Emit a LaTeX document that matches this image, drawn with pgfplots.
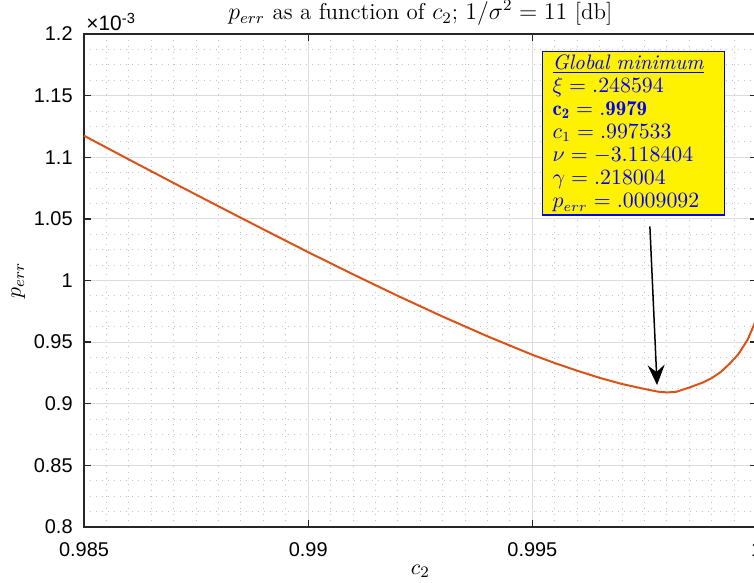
\documentclass[border=0pt]{standalone}
\usepackage{fontspec}
\usepackage{pgfplots}
\pgfplotsset{compat=1.18}
\usetikzlibrary{arrows.meta}
\newfontfamily\arial{Liberation Sans}
\definecolor{mcurve}{RGB}{217,83,25}
\definecolor{maxis}{RGB}{38,38,38}
\definecolor{mgrid}{RGB}{220,220,220}
\definecolor{mminor}{RGB}{195,195,195}
\begin{document}
\begin{tikzpicture}
\useasboundingbox (-42bp,-28bp) rectangle (335bp,263.5bp);
\clip (-42bp,-28bp) rectangle (335bp,263.5bp);
\begin{axis}[
  at={(0,0)}, anchor=south west,
  scale only axis, width=336.3bp, height=246.5bp,
  clip=false,
  xmin=0.985, xmax=1, ymin=0.8, ymax=1.2,
  xtick={0.985,0.99,0.995,1}, xticklabels={0.985,0.99,0.995,1},
  ytick={0.8,0.85,0.9,0.95,1,1.05,1.1,1.15,1.2},
  yticklabels={0.8,0.85,0.9,0.95,1,1.05,1.1,1.15,1.2},
  minor x tick num=9, minor y tick num=3,
  grid=both,
  major grid style={draw=mgrid, line width=0.6bp},
  minor grid style={draw=mminor, line width=0.5bp, dash pattern=on 0.5bp off 2.5bp},
  tick align=inside, major tick length=3.4bp, minor tick length=0pt,
  axis line style={draw=maxis, line width=0.7bp},
  every tick/.style={draw=maxis, line width=0.7bp},
  xticklabel style={font=\arial\fontsize{10}{12}\selectfont, anchor=north, inner sep=0pt, yshift=-7.5bp},
  yticklabel style={font=\arial\fontsize{10}{12}\selectfont, anchor=east, inner sep=0pt, xshift=-5.5bp},
  title={$p_{err}$ as a function of $c_2$; $1/\sigma^2 = 11$ [db]},
  title style={font=\fontsize{11.5}{13}\selectfont, at={(axis description cs:0.5,1)}, anchor=base, yshift=1.3bp, inner sep=0pt},
  xlabel={$c_2$},
  xlabel style={font=\fontsize{11}{13}\selectfont, at={(axis description cs:0.5,0)}, anchor=base, yshift=-23.5bp, inner sep=0pt},
  ylabel={$p_{err}$},
  ylabel style={font=\fontsize{11}{13}\selectfont, at={(axis description cs:-0.0937,0.5)}, anchor=base, rotate=0, inner sep=0pt},
]
\addplot[color=mcurve, line width=1bp] coordinates {
(0.985,1.1175) (0.986,1.0982) (0.987,1.0791) (0.988,1.0602) (0.989,1.0415)
(0.990,1.0230) (0.991,1.0050) (0.992,0.9875) (0.993,0.9707) (0.994,0.9547)
(0.995,0.9397) (0.9955,0.9330) (0.996,0.9268) (0.9965,0.9210) (0.997,0.9160)
(0.9975,0.9120) (0.9978,0.9098) (0.9980,0.9092) (0.9982,0.9096) (0.9985,0.9132)
(0.9988,0.9172) (0.9990,0.9208) (0.9992,0.9258) (0.9994,0.9325) (0.9996,0.9405)
(0.9998,0.9520) (1.0000,0.9690)
};
\node[anchor=base west, inner sep=0pt, xshift=1bp, yshift=1.5bp, font=\arial\fontsize{10.5}{11}\selectfont] at (rel axis cs:0,1) {×10\textsuperscript{-3}};
\node[anchor=north west, draw=blue, line width=0.8bp, fill=yellow, text=blue,
      inner xsep=5bp, inner ysep=1.5bp, text width=81bp, align=left,
      font=\fontsize{10.5}{11.6}\selectfont] at (rel axis cs:0.6806,0.9663) {%
\underline{\textit{Global minimum}}\\
$\xi = .248594$\\
$\mathbf{c_2 = .9979}$\\
$c_1 = .997533$\\
$\nu = -3.118404$\\
$\gamma = .218004$\\
$p_{err} = .0009092$};
\draw[-{Stealth[length=10bp,width=8.5bp,inset=3.5bp]}, line width=0.75bp, black] (axis cs:0.99762,1.0439) -- (axis cs:0.99778,0.9152);
\end{axis}
\end{tikzpicture}
\end{document}
